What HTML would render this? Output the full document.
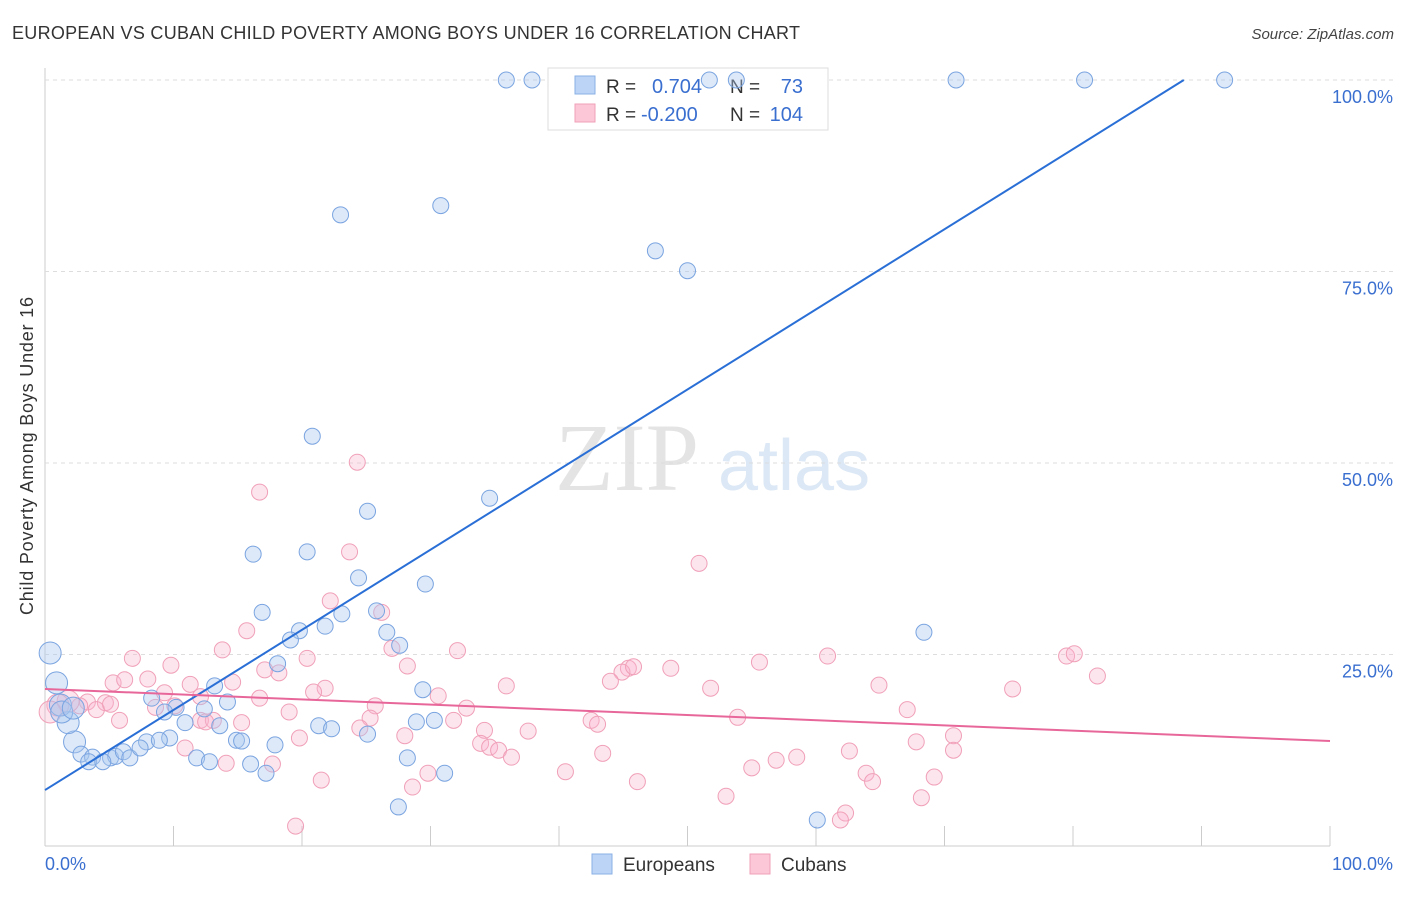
<!DOCTYPE html>
<html><head><meta charset="utf-8"><style>
body{margin:0;background:#fff;font-family:"Liberation Sans",sans-serif}
</style></head><body>
<svg id="chart" width="1406" height="892" xmlns="http://www.w3.org/2000/svg" font-family="Liberation Sans, sans-serif">
<text x="12" y="39" font-size="18" fill="#333" textLength="788">EUROPEAN VS CUBAN CHILD POVERTY AMONG BOYS UNDER 16 CORRELATION CHART</text>
<text x="1394" y="39" font-size="15" fill="#444" text-anchor="end" font-style="italic">Source: ZipAtlas.com</text>
<text x="555" y="490" font-size="96" fill="#e4e4e4" font-family="Liberation Serif, serif">ZIP</text>
<text x="718" y="490" font-size="72" fill="#dce8f5">atlas</text>
<text transform="translate(33,456) rotate(-90)" font-size="18" fill="#333" text-anchor="middle" textLength="318">Child Poverty Among Boys Under 16</text>
<g id="grid"></g>
<g>
<rect x="548" y="68" width="280" height="62" fill="#fff" stroke="#ddd"/>
<rect x="575" y="76" width="20" height="18" fill="#bcd4f5" stroke="#8ab0e6"/>
<rect x="575" y="104" width="20" height="18" fill="#fcc8d8" stroke="#f0a0b8"/>
<text x="606" y="93" font-size="19" fill="#333">R =</text><text x="652" y="93" font-size="20" fill="#3a6fd0">0.704</text>
<text x="730" y="93" font-size="19" fill="#333">N =</text><text x="803" y="93" font-size="20" fill="#3a6fd0" text-anchor="end">73</text>
<text x="606" y="121" font-size="19" fill="#333">R =</text><text x="641" y="121" font-size="20" fill="#3a6fd0">-0.200</text>
<text x="730" y="121" font-size="19" fill="#333">N =</text><text x="803" y="121" font-size="20" fill="#3a6fd0" text-anchor="end">104</text>
</g>
<g id="pts"></g><g id="lines"></g>
<g>
<rect x="592" y="854" width="20" height="20" fill="#bcd4f5" stroke="#8ab0e6"/>
<text x="623" y="871" font-size="19" fill="#333">Europeans</text>
<rect x="750" y="854" width="20" height="20" fill="#fcc8d8" stroke="#f0a0b8"/>
<text x="781" y="871" font-size="19" fill="#333">Cubans</text>
</g>
<text x="45" y="870" font-size="18" fill="#3a6fd0">0.0%</text>
<text x="1393" y="870" font-size="18" fill="#3a6fd0" text-anchor="end">100.0%</text>
</svg>
<script>
const yTicks=[25,50,75,100];
const yTickLabels=["25.0%","50.0%","75.0%","100.0%"];
const xTicks=[10,20,30,40,50,60,70,80,90,100];
const euroX=[35.9,37.9,51.7,53.8,70.9,80.9,91.8,23.0,30.8,47.5,50.0,20.8,34.6,25.1,16.2,20.4,24.4,29.6,16.9,23.1,25.8,19.8,26.6,27.6,68.4,21.8,19.1,18.1,0.4,0.9,13.2,29.4,8.3,10.2,12.4,14.2,9.3,28.9,30.3,10.9,21.3,22.3,25.1,13.6,14.9,15.3,9.7,7.9,8.9,2.3,1.8,2.8,3.7,3.4,5.1,5.5,6.1,6.6,4.5,7.4,11.8,12.8,16.0,17.9,17.2,28.2,31.1,27.5,60.1,1.2,1.3,2.2];
const euroY=[100,100,100,100,100,100,100,82.4,83.6,77.7,75.1,53.5,45.4,43.7,38.1,38.4,35.0,34.2,30.5,30.3,30.7,28.1,27.9,26.2,27.9,28.7,26.9,23.8,25.2,21.3,20.9,20.4,19.3,18.1,17.9,18.8,17.5,16.2,16.4,16.1,15.7,15.3,14.6,15.7,13.8,13.7,14.1,13.6,13.8,13.6,16.1,12.0,11.6,11.0,11.5,11.7,12.3,11.5,11.0,12.8,11.5,11.0,10.7,13.2,9.5,11.5,9.5,5.1,3.4,18.4,17.5,18.0];
const cubaX=[24.3,16.7,23.7,50.9,22.2,26.2,15.7,27.0,13.8,6.8,9.8,32.1,20.4,18.2,17.1,28.2,45.4,44.9,44.0,45.8,48.7,55.6,60.9,79.5,80.1,81.9,75.3,64.9,51.8,35.9,5.3,6.2,8.0,11.3,9.3,14.6,21.8,20.9,30.6,3.3,4.7,4.0,2.7,1.8,1.0,0.4,5.8,8.6,12.1,13.1,12.5,15.3,19.0,25.7,25.3,31.8,32.8,42.5,43.0,53.9,67.1,19.8,24.5,28.0,34.2,33.9,34.6,35.3,36.3,37.6,43.4,62.6,67.8,70.7,70.7,40.5,55.0,56.9,58.5,63.9,64.4,69.2,46.1,17.7,14.1,10.9,21.5,28.6,29.8,53.0,68.2,62.3,61.9,19.5,16.7,12.1,10.1,5.1];
const cubaY=[50.1,46.2,38.4,36.9,32.0,30.5,28.1,25.8,25.6,24.5,23.6,25.5,24.5,22.6,23.0,23.5,23.2,22.7,21.5,23.4,23.2,24.0,24.8,24.8,25.1,22.2,20.5,21.0,20.6,20.9,21.3,21.7,21.8,21.1,20.0,21.4,20.6,20.1,19.6,18.8,18.7,17.8,18.3,18.9,18.4,17.5,16.4,18.1,16.4,16.4,16.2,16.1,17.5,18.3,16.7,16.4,18.0,16.4,15.9,16.8,17.8,14.1,15.4,14.4,15.1,13.4,12.9,12.5,11.6,15.0,12.1,12.4,13.6,14.4,12.5,9.7,10.2,11.2,11.6,9.5,8.4,9.0,8.4,10.7,10.8,12.8,8.6,7.7,9.5,6.5,6.3,4.3,3.4,2.6,19.3,19.5,18.3,18.5];
const euroLine=[7.3,1.046];
const cubaLine=[20.5,-0.068];
const NS="http://www.w3.org/2000/svg";
const X=v=>45+v*12.85, Y=v=>846-v*7.66;
function mk(t,a,p){const e=document.createElementNS(NS,t);for(const k in a)e.setAttribute(k,a[k]);p.appendChild(e);return e;}
const grid=document.getElementById('grid');
mk('line',{x1:45,y1:68,x2:45,y2:846,stroke:'#ccc'},grid);
mk('line',{x1:45,y1:846,x2:1330,y2:846,stroke:'#ccc'},grid);
yTicks.forEach((t,i)=>{
 const l=mk('line',{x1:45,y1:Y(t),x2:1393,y2:Y(t),stroke:'#ddd','stroke-dasharray':'4,4'},grid);
 
 
 const tx=mk('text',{x:1393,y:Y(t)+23,'font-size':18,fill:'#3a6fd0','text-anchor':'end'},grid);
 tx.textContent=yTickLabels[i];
 
 
});
xTicks.forEach(t=>{
 const l=mk('line',{x1:X(t),y1:826,x2:X(t),y2:846,stroke:'#ccc'},grid);
 
 
});
const pts=document.getElementById('pts');
cubaX.forEach((x,i)=>{
 const c=mk('circle',{cx:X(x),cy:Y(cubaY[i]),r:x<2.5?11:8,fill:'rgba(250,180,205,0.35)',stroke:'#f0a0b8','stroke-width':1},pts);
 
 
});
euroX.forEach((x,i)=>{
 const c=mk('circle',{cx:X(x),cy:Y(euroY[i]),r:x<2.5?11:8,fill:'rgba(170,200,240,0.4)',stroke:'#7aa4e0','stroke-width':1},pts);
 
 
});
const lines=document.getElementById('lines');
const ex2=(100-euroLine[0])/euroLine[1];
const l1=mk('line',{x1:X(0),y1:Y(euroLine[0]),x2:X(ex2),y2:Y(100),stroke:'#2a6fd6','stroke-width':2},lines);


const l2=mk('line',{x1:X(0),y1:Y(cubaLine[0]),x2:X(100),y2:Y(cubaLine[0]+cubaLine[1]*100),stroke:'#e8679a','stroke-width':2},lines);


</script>
</body></html>
